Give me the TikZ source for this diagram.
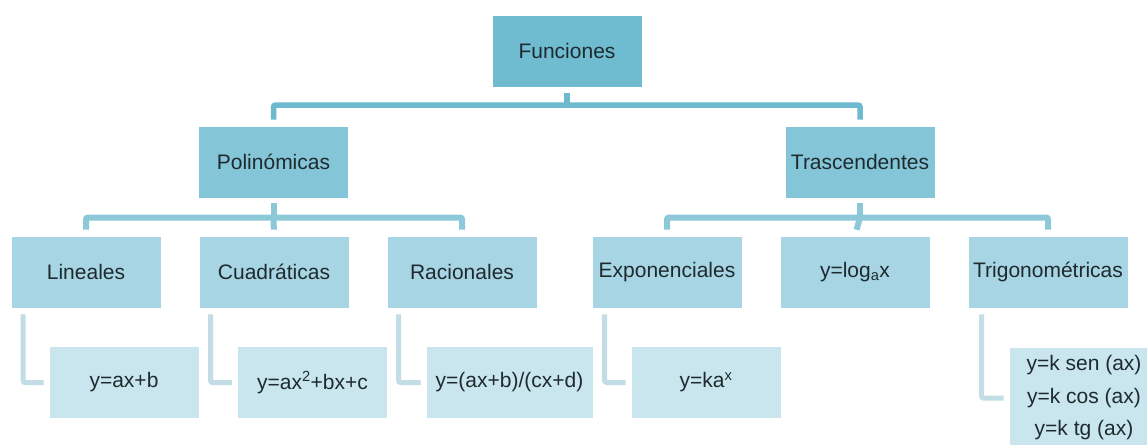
\documentclass[tikz,border=0pt]{standalone}
\usepackage{fontspec}
\setmainfont{Liberation Sans}
\definecolor{cA}{HTML}{6FBCD0}
\definecolor{cB}{HTML}{84C5D7}
\definecolor{cC}{HTML}{A7D5E3}
\definecolor{cD}{HTML}{C9E6EE}
\definecolor{lnA}{HTML}{6DB9CE}
\definecolor{lnB}{HTML}{8DC8D9}
\definecolor{lnC}{HTML}{C2DDE6}
\definecolor{txt}{HTML}{1E2A2E}
\begin{document}
\begin{tikzpicture}[x=1pt,y=-1pt,
  box/.style={rectangle, draw=white, line width=0.8pt, minimum width=150pt,
    minimum height=72pt, inner sep=1pt, text=txt,
    font=\fontsize{21}{32.5}\selectfont},
  lvA/.style={box, fill=cA},
  lvB/.style={box, fill=cB},
  lvC/.style={box, fill=cC},
  lvD/.style={box, fill=cD},
  conA/.style={draw=lnA, line width=5.5pt, rounded corners=2pt},
  conB/.style={draw=lnB, line width=6pt, rounded corners=2pt},
  conC/.style={draw=lnC, line width=5pt, rounded corners=2pt}]
\useasboundingbox (0,0) rectangle (1147,444);
% nodes
\node[lvA] (fun) at (567,51) {Funciones};
\node[lvB] (pol) at (273.5,162) {Polinómicas};
\node[lvB] (trs) at (860,162) {Trascendentes};
\node[lvC] (lin) at (86,272) {Lineales};
\node[lvC] (cua) at (274,272) {Cuadráticas};
\node[lvC] (rac) at (462,272) {Racionales};
\node[lvC] (exn) at (667,272) {Exponenciales};
\node[lvC] (lgn) at (855,272) {y=log\textsubscript{a}x};
\node[lvC, minimum width=160pt] (tri) at (1048,272) {Trigonométricas};
\node[lvD] (linl) at (124,382.5) {y=ax+b};
\node[lvD] (cual) at (312.5,382.5) {y=ax\textsuperscript{2}+bx+c};
\node[lvD, minimum width=167pt] (racl) at (509.5,382.5) {y=(ax+b)/(cx+d)};
\node[lvD] (expl) at (706,382.5) {y=ka\textsuperscript{x}};
\node[lvD, minimum height=102pt, align=center] (tril) at (1084,398) {y=k sen (ax)\\y=k cos (ax)\\y=k tg (ax)};
% bar coordinates
\coordinate (bA) at (567,105);
\coordinate (bB) at (273.5,217.5);
\coordinate (bC) at (860,217.5);
% level 1
\draw[conA, shorten <=6pt] (fun.south) -- (bA);
\draw[conA, shorten <=6pt, shorten >=6pt] (pol.north) |- (bA) -| (trs.north);
% level 2
\draw[conB, shorten <=5pt] (pol.south) -- (bB);
\draw[conB, shorten <=6pt, shorten >=6pt] (lin.north) |- (bB) -| (rac.north);
\draw[conB, shorten >=6pt] (bB) -- (cua.north);
\draw[conB, shorten <=5pt] (trs.south) -- (bC);
\draw[conB, shorten <=6pt, shorten >=6pt] (exn.north) |- (bC) -| (tri.north);
\draw[conB, shorten >=6pt] (bC) -- (lgn.north);
% leaves
\draw[conC, shorten <=6pt, shorten >=5pt] ([xshift=12.5pt]lin.south west) |- (linl.west);
\draw[conC, shorten <=6pt, shorten >=5pt] ([xshift=12pt]cua.south west) |- (cual.west);
\draw[conC, shorten <=6pt, shorten >=5pt] ([xshift=12pt]rac.south west) |- (racl.west);
\draw[conC, shorten <=6pt, shorten >=5pt] ([xshift=13pt]exn.south west) |- (expl.west);
\draw[conC, shorten <=6pt, shorten >=5pt] ([xshift=14pt]tri.south west) |- (tril.west);
\end{tikzpicture}
\end{document}
